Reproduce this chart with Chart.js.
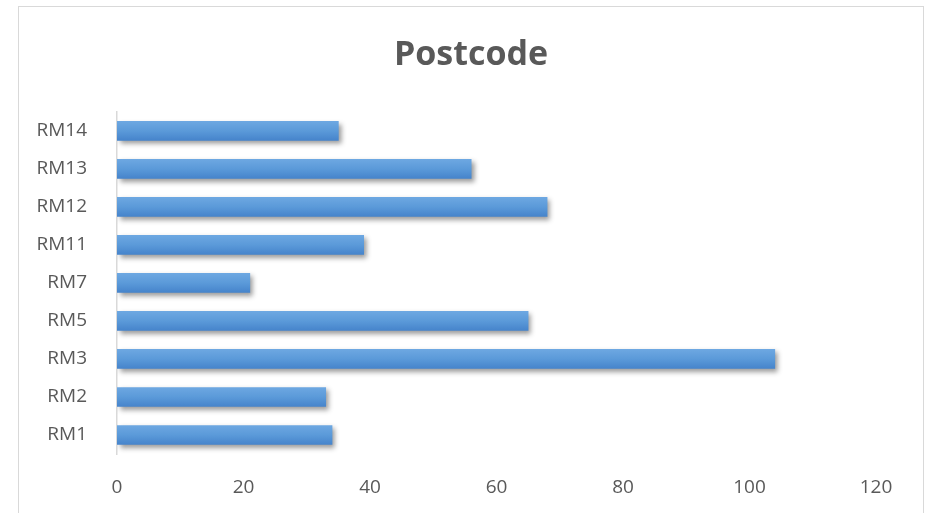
<!DOCTYPE html>
<html>
<head>
<meta charset="utf-8">
<script src="https://cdn.jsdelivr.net/npm/chart.js@4/dist/chart.umd.min.js"></script>
<style>
  html, body { margin: 0; padding: 0; background: #fff; overflow: hidden; }
  #box {
    position: absolute; left: 18px; top: 6px; width: 904px; height: 520px;
    border: 1.5px solid #d9d9d9; background: #fff;
  }
</style>
</head>
<body>
<div id="box"><canvas id="chart"></canvas></div>
<script>
const postcodes = ['RM1', 'RM2', 'RM3', 'RM5', 'RM7', 'RM11', 'RM12', 'RM13', 'RM14'];
const counts = [34, 33, 104, 65, 21, 39, 68, 56, 35];
const xTicks = [0, 20, 40, 60, 80, 100, 120];

const textGrey = '#595959';
const font = '"Open Sans", Lato, sans-serif';

// soft drop shadow under the bars
const barShadow = {
  id: 'barShadow',
  beforeDatasetsDraw(chart) {
    const c = chart.ctx;
    c.save();
    c.shadowColor = 'rgba(0,0,0,0.4)';
    c.shadowBlur = 5;
    c.shadowOffsetX = 3;
    c.shadowOffsetY = 3;
  },
  afterDatasetsDraw(chart) {
    chart.ctx.restore();
  }
};

function barFill(ctx) {
  const chart = ctx.chart;
  const y = chart.scales.y;
  if (!y || ctx.dataIndex === undefined) return '#5b9bd5';
  const mid = y.getPixelForValue(ctx.dataIndex);
  if (!isFinite(mid)) return '#5b9bd5';
  const g = chart.ctx.createLinearGradient(0, mid - 10, 0, mid + 10);
  g.addColorStop(0, '#6ea8e2');
  g.addColorStop(0.5, '#5b9ad9');
  g.addColorStop(1, '#4583cb');
  return g;
}

new Chart(document.getElementById('chart'), {
  type: 'bar',
  data: {
    labels: postcodes,
    datasets: [{
      label: 'Postcode',
      data: counts,
      backgroundColor: barFill,
      borderWidth: 0,
      barThickness: 19
    }]
  },
  plugins: [barShadow],
  options: {
    indexAxis: 'y',
    responsive: true,
    maintainAspectRatio: false,
    animation: false,
    layout: { padding: 0 },
    plugins: {
      legend: { display: false },
      tooltip: { enabled: false },
      title: {
        display: true,
        text: 'Postcode',
        color: textGrey,
        font: { family: font, size: 34, weight: 'bold', lineHeight: 1.2 },
        padding: { top: 28, bottom: 36 }
      }
    },
    scales: {
      x: {
        min: 0,
        max: 120,
        afterBuildTicks(axis) { axis.ticks = xTicks.map(v => ({ value: v })); },
        afterFit(axis) { axis.height = 73; },
        grid: { display: false },
        border: { display: false },
        ticks: { color: textGrey, font: { family: font, size: 19 }, padding: 14 }
      },
      y: {
        reverse: true,
        afterFit(axis) { axis.width = 98; },
        grid: { display: false },
        border: { display: true, color: '#d9d9d9', width: 1.5 },
        ticks: { color: textGrey, font: { family: font, size: 19 }, padding: 22 }
      },
      // empty right-hand axis, only keeps the plot clear of the right edge
      yRight: {
        type: 'category',
        position: 'right',
        afterFit(axis) { axis.width = 47; },
        grid: { display: false },
        border: { display: false },
        ticks: { display: false }
      }
    }
  }
});
</script>
</body>
</html>
